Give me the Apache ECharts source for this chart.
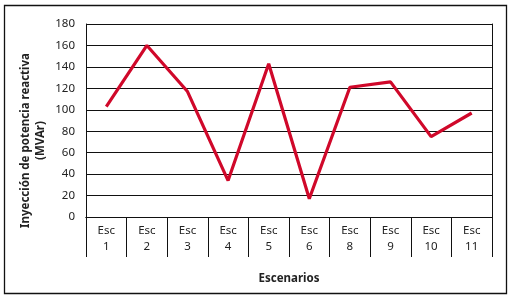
<!DOCTYPE html>
<html>
<head>
<meta charset="utf-8">
<script src="https://cdn.jsdelivr.net/npm/echarts@6/dist/echarts.min.js"></script>
<style>
  html, body { margin: 0; padding: 0; background: #fff; }
  #chart { width: 512px; height: 299px; }
</style>
</head>
<body>
<div id="chart"></div>
<script>
// Datos del gráfico
const escenarios = ["Esc\n1", "Esc\n2", "Esc\n3", "Esc\n4", "Esc\n5", "Esc\n6", "Esc\n8", "Esc\n9", "Esc\n10", "Esc\n11"];
const inyeccion = [103, 160, 117, 34, 143, 17, 121, 126, 75, 97];
const yTicks = { min: 0, max: 180, interval: 20 };

const lineColor = "#111";
const fontFam = "Noto Sans, sans-serif";

const chart = echarts.init(document.getElementById("chart"), null, { renderer: "canvas" });
chart.setOption({
    animation: false,
    backgroundColor: "#fff",
    grid: { left: 86, right: 20, top: 24, bottom: 82 },
    graphic: [
        {
            type: "rect",
            shape: { x: 4.5, y: 5.5, width: 502, height: 288 },
            style: { fill: null, stroke: lineColor, lineWidth: 1.3 },
        },
    ],
    xAxis: [
        {
            type: "category",
            data: escenarios,
            boundaryGap: true,
            axisLine: { show: true, lineStyle: { color: lineColor, width: 1 } },
            axisTick: { show: true, length: 40, lineStyle: { color: lineColor, width: 1 } },
            axisLabel: {
                margin: 6,
                color: "#222",
                fontFamily: fontFam,
                fontSize: 11.5,
                lineHeight: 16,
                interval: 0,
            },
            name: "Escenarios",
            nameLocation: "middle",
            nameGap: 56,
            nameMoveOverlap: false,
            nameTextStyle: { fontFamily: fontFam, fontWeight: "bold", fontSize: 11.5, color: "#222" },
        },
        {
            type: "category",
            data: escenarios,
            position: "bottom",
            offset: 40,
            axisLine: { show: true, lineStyle: { color: lineColor, width: 1 } },
            axisTick: { show: false },
            axisLabel: { show: false },
        },
    ],
    yAxis: [
        {
            type: "value",
            min: yTicks.min,
            max: yTicks.max,
            interval: yTicks.interval,
            axisLine: { show: true, lineStyle: { color: lineColor, width: 1 } },
            axisTick: { show: false },
            axisLabel: { margin: 11, color: "#222", fontFamily: fontFam, fontSize: 11.5 },
            splitLine: { show: true, lineStyle: { color: lineColor, width: 1 } },
            name: "Inyección de potencia reactiva\n(MVAr)",
            nameLocation: "middle",
            nameGap: 38,
            nameMoveOverlap: false,
            nameTextStyle: {
                fontFamily: fontFam,
                fontWeight: "bold",
                fontSize: 11.5,
                lineHeight: 15,
                color: "#222",
                padding: [0, 40, 0, 0],
            },
        },
        {
            type: "value",
            position: "right",
            min: yTicks.min,
            max: yTicks.max,
            interval: yTicks.interval,
            axisLine: { show: true, lineStyle: { color: lineColor, width: 1 } },
            axisTick: { show: false },
            axisLabel: { show: false },
            splitLine: { show: false },
        },
    ],
    series: [
        {
            name: "Inyección",
            type: "line",
            data: inyeccion,
            symbol: "none",
            lineStyle: { color: "#d0082a", width: 3.2 },
        },
    ],
});
</script>
</body>
</html>
